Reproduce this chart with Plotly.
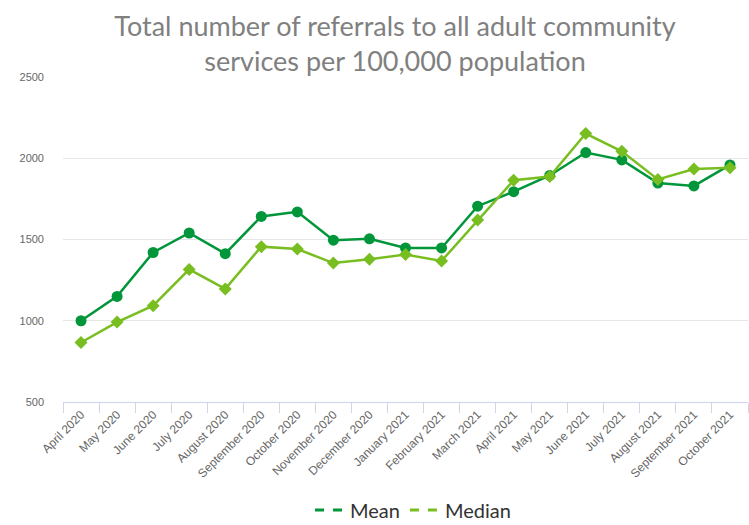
import plotly.graph_objects as go

months = [
    "April 2020", "May 2020", "June 2020", "July 2020", "August 2020",
    "September 2020", "October 2020", "November 2020", "December 2020",
    "January 2021", "February 2021", "March 2021", "April 2021", "May 2021",
    "June 2021", "July 2021", "August 2021", "September 2021", "October 2021",
]
mean_vals = [1000, 1150, 1420, 1540, 1413, 1642, 1670, 1496, 1504,
             1448, 1448, 1705, 1794, 1894, 2035, 1990, 1847, 1830, 1959]
median_vals = [866, 992, 1093, 1316, 1196, 1456, 1441, 1355, 1378,
               1407, 1368, 1620, 1865, 1888, 2152, 2043, 1870, 1934, 1942]

MEAN_COLOR = "#009639"
MEDIAN_COLOR = "#78BE20"

fig = go.Figure()

fig.add_trace(go.Scatter(
    x=months, y=mean_vals, mode="lines+markers", name="Mean",
    line=dict(color=MEAN_COLOR, width=2.5),
    marker=dict(symbol="circle", size=11, color=MEAN_COLOR),
    showlegend=False,
))
fig.add_trace(go.Scatter(
    x=months, y=median_vals, mode="lines+markers", name="Median",
    line=dict(color=MEDIAN_COLOR, width=2.5),
    marker=dict(symbol="diamond", size=10, color=MEDIAN_COLOR),
    showlegend=False,
))

# legend entries drawn as dashed line keys
for name, color in [("Mean", MEAN_COLOR), ("Median", MEDIAN_COLOR)]:
    fig.add_trace(go.Scatter(
        x=[None], y=[None], mode="lines", name=name,
        line=dict(color=color, width=3, dash="dash"),
    ))

fig.update_layout(
    width=749, height=525,
    margin=dict(l=63, r=1, t=77, b=123, autoexpand=False),
    paper_bgcolor="white", plot_bgcolor="white",
    title=dict(
        text="Total number of referrals to all adult community<br>services per 100,000 population",
        x=395 / 749, xanchor="center", xref="container",
        y=1 - 36 / 525, yanchor="middle", yref="container",
        font=dict(family="Lato, sans-serif", size=27, color="#808080"),
    ),
    xaxis=dict(
        type="category", range=[-0.5, 18.5],
        tickson="boundaries", ticks="outside", ticklen=10,
        tickcolor="#ccd6eb", tickwidth=1,
        showline=True, linecolor="#ccd6eb", linewidth=1,
        showgrid=False, tickangle=-45,
        tickfont=dict(family="Liberation Sans, Arial, sans-serif", size=12, color="#666666"),
    ),
    yaxis=dict(
        range=[500, 2500], dtick=500, tick0=500,
        showgrid=True, gridcolor="#e6e6e6", gridwidth=1,
        zeroline=False, showline=False,
        ticklabelstandoff=18,
        tickfont=dict(family="Liberation Sans, Arial, sans-serif", size=11, color="#666666"),
    ),
    legend=dict(
        orientation="h", x=413 / 749, xanchor="center", xref="container",
        y=15 / 525, yanchor="middle", yref="container",
        font=dict(family="Lato, sans-serif", size=20, color="#333333"),
        itemwidth=30,
    ),
)

fig.write_html("out.html")
